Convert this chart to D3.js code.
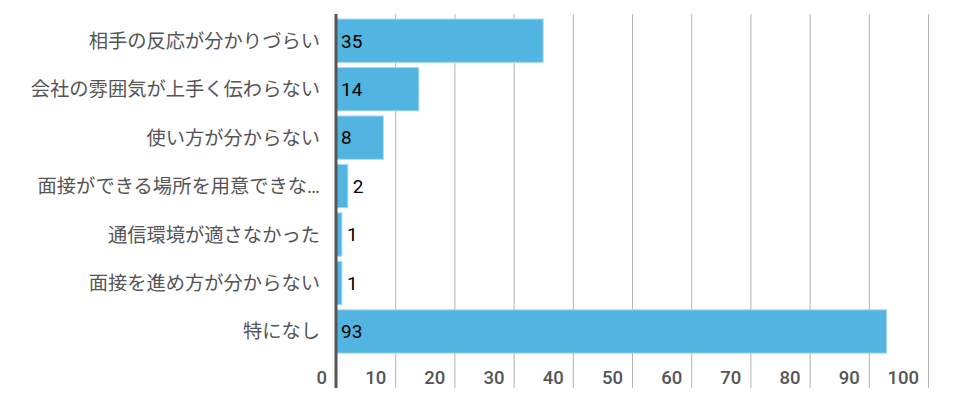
<!DOCTYPE html>
<html><head><meta charset="utf-8">
<script src="https://cdn.jsdelivr.net/npm/d3@7"></script>
<style>
body{margin:0;background:#fff;}
svg{display:block;font-family:Roboto,"Noto Sans CJK JP",sans-serif;}
</style></head>
<body>
<svg id="c" width="959" height="402"></svg>
<script>
const categories = ["相手の反応が分かりづらい","会社の雰囲気が上手く伝わらない","使い方が分からない","面接ができる場所を用意できな…","通信環境が適さなかった","面接を進め方が分からない","特になし"];
const values = [35,14,8,2,1,1,93];
const tickValues = [0,10,20,30,40,50,60,70,80,90,100];

const svg = d3.select("#c");
const x = d3.scaleLinear().domain([0,100]).range([336,928]);
const y = d3.scaleBand().domain(categories).range([16.6,355.6]).paddingInner(0.105).paddingOuter(0.05);

// gridlines
svg.append("g").selectAll("line").data(tickValues.filter(d=>d>0)).join("line")
  .attr("x1",d=>x(d)+0.5).attr("x2",d=>x(d)+0.5).attr("y1",14).attr("y2",388)
  .attr("stroke","#b3b3b3").attr("stroke-width",1);

// bars
svg.append("g").selectAll("rect").data(values).join("rect")
  .attr("x",x(0)).attr("y",(d,i)=>y(categories[i]))
  .attr("width",d=>x(d)-x(0)).attr("height",y.bandwidth())
  .attr("fill","#52b5e1").attr("stroke","#a9dbf1").attr("stroke-width",1);

// axis line
svg.append("line").attr("x1",336).attr("x2",336).attr("y1",14).attr("y2",388)
  .attr("stroke","#555").attr("stroke-width",3);

// tick labels
svg.append("g").selectAll("text").data(tickValues).join("text")
  .attr("x",d=>x(d)-9).attr("y",384).attr("text-anchor","end")
  .attr("font-size",18.5).attr("font-weight",500).attr("fill","#555")
  .text(d=>d);

// category labels
svg.append("g").selectAll("text").data(categories).join("text")
  .attr("x",320).attr("y",d=>y(d)+y.bandwidth()/2).attr("dy","0.36em")
  .attr("text-anchor","end").attr("font-size",19.3).attr("fill","#555")
  .text(d=>d);

// value labels
svg.append("g").selectAll("text").data(values).join("text")
  .attr("x",d=>(x(d)-x(0) > 30) ? x(0)+5 : x(d)+5)
  .attr("y",(d,i)=>y(categories[i])+y.bandwidth()/2).attr("dy","0.36em")
  .attr("font-size",19).attr("fill","#000")
  .text(d=>d);
</script>
</body></html>
